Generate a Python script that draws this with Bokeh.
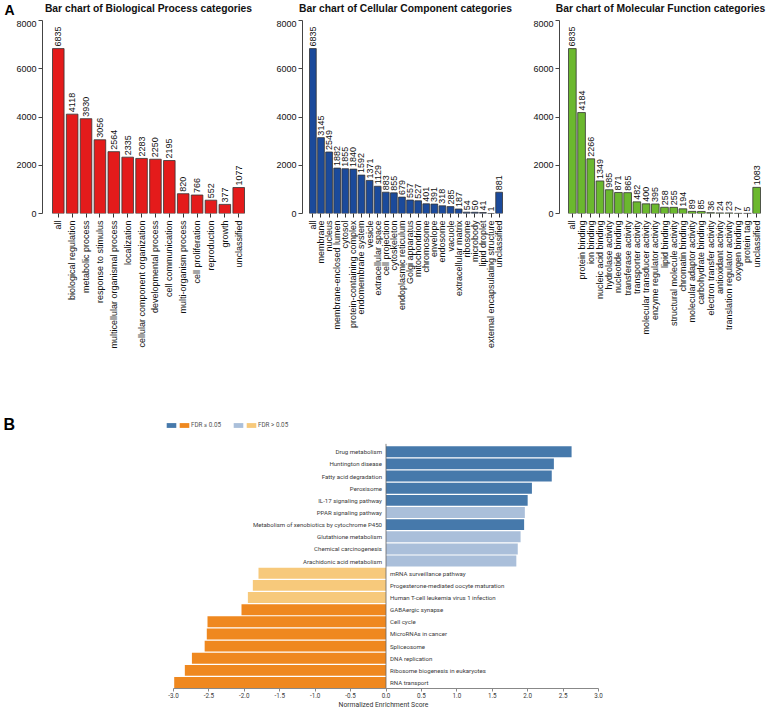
import numpy as np
from math import pi
from bokeh.plotting import figure
from bokeh.models import (ColumnDataSource, Range1d, FixedTicker, Label, Legend,
                          LegendItem, NumeralTickFormatter)
from bokeh.layouts import column, row
from bokeh.core.properties import value
from bokeh.embed import file_html
from bokeh.resources import INLINE

# ---------------- data ----------------
bp_cats = ["all", "biological regulation", "metabolic process", "response to stimulus",
           "multicellular organismal process", "localization", "cellular component organization",
           "developmental process", "cell communication", "multi-organism process",
           "cell proliferation", "reproduction", "growth", "unclassified"]
bp_vals = [6835, 4118, 3930, 3056, 2564, 2335, 2283, 2250, 2195, 820, 766, 552, 377, 1077]

cc_cats = ["all", "membrane", "nucleus", "membrane-enclosed lumen", "cytosol",
           "protein-containing complex", "endomembrane system", "vesicle", "extracellular space",
           "cell projection", "cytoskeleton", "endoplasmic reticulum", "Golgi apparatus",
           "mitochondrion", "chromosome", "envelope", "endosome", "vacuole",
           "extracellular matrix", "ribosome", "microbody", "lipid droplet",
           "external encapsulating structure", "unclassified"]
cc_vals = [6835, 3145, 2549, 1882, 1855, 1840, 1592, 1371, 1129, 883, 855, 679, 557, 527,
           401, 391, 318, 285, 187, 54, 50, 41, 1, 881]

mf_cats = ["all", "protein binding", "ion binding", "nucleic acid binding", "hydrolase activity",
           "nucleotide binding", "transferase activity", "transporter activity",
           "molecular transducer activity", "enzyme regulator activity", "lipid binding",
           "structural molecule activity", "chromatin binding", "molecular adaptor activity",
           "carbohydrate binding", "electron transfer activity", "antioxidant activity",
           "translation regulator activity", "oxygen binding", "protein tag", "unclassified"]
mf_vals = [6835, 4184, 2266, 1349, 985, 871, 865, 482, 400, 395, 258, 255, 194, 89, 85,
           36, 24, 23, 7, 5, 1083]

y_ticks_a = [0, 2000, 4000, 6000, 8000]

kegg_terms = ["Drug metabolism", "Huntington disease", "Fatty acid degradation", "Peroxisome",
              "IL-17 signaling pathway", "PPAR signaling pathway",
              "Metabolism of xenobiotics by cytochrome P450", "Glutathione metabolism",
              "Chemical carcinogenesis", "Arachidonic acid metabolism",
              "mRNA surveillance pathway", "Progesterone-mediated oocyte maturation",
              "Human T-cell leukemia virus 1 infection", "GABAergic synapse", "Cell cycle",
              "MicroRNAs in cancer", "Spliceosome", "DNA replication",
              "Ribosome biogenesis in eukaryotes", "RNA transport"]
kegg_nes = [2.62, 2.37, 2.34, 2.06, 2.00, 1.96, 1.95, 1.90, 1.86, 1.84,
            -1.80, -1.88, -1.95, -2.04, -2.52, -2.53, -2.56, -2.74, -2.84, -2.99]
kegg_sig = [True, True, True, True, True, False, True, False, False, False,
            False, False, False, True, True, True, True, True, True, True]
x_ticks_b = [-3.0, -2.5, -2.0, -1.5, -1.0, -0.5, 0.0, 0.5, 1.0, 1.5, 2.0, 2.5, 3.0]

# ---------------- layout constants (page px) ----------------
FONT_A = "Liberation Sans"
FONT_B = "Roboto"
W = 766
STRIP_H = 20
HA = 345
FT = STRIP_H   # bar-chart frame top
FB = 213       # bar-chart frame bottom


def bare(width, height, xr, yr):
    p = figure(width=width, height=height, x_range=xr, y_range=yr,
               min_border_left=0, min_border_right=0, min_border_top=0, min_border_bottom=0,
               x_axis_location=None, y_axis_location=None,
               output_backend="svg", toolbar_location=None)
    p.outline_line_color = None
    p.xgrid.visible = False
    p.ygrid.visible = False
    return p


def panel_a(cats, vals, color, fig_left, fig_w, axis_x, frame_right, first_left, last_right):
    n = len(cats)
    s = (last_right - first_left) / (n - 1 / 6)
    first_center = first_left + s * 5 / 12
    x0 = -(first_center - axis_x) / s
    x1 = x0 + (frame_right - axis_x) / s
    p = figure(width=fig_w, height=HA, x_range=Range1d(x0, x1), y_range=Range1d(0, 8000),
               min_border_left=axis_x - fig_left, min_border_right=fig_left + fig_w - frame_right,
               min_border_top=0, min_border_bottom=FT + HA - FB,
               output_backend="svg", toolbar_location=None)
    p.outline_line_color = None
    p.xgrid.visible = False
    p.ygrid.visible = False
    src = ColumnDataSource(dict(x=list(range(n)), top=vals, lab=[str(v) for v in vals]))
    p.vbar(x="x", top="top", bottom=0, width=1 / 1.2, source=src,
           fill_color=color, line_color="#333333", line_width=0.8)
    p.text(x="x", y="top", text="lab", source=src, angle=pi / 2, text_align="left",
           text_baseline="middle", y_offset=-2, text_font=value(FONT_A),
           text_font_size="9px", text_color="#111111")
    xa = p.xaxis[0]
    xa.ticker = FixedTicker(ticks=list(range(n)))
    xa.major_label_overrides = {i: c for i, c in enumerate(cats)}
    xa.major_label_orientation = pi / 2
    xa.axis_line_color = None
    xa.major_tick_line_color = "#333333"
    xa.major_tick_out = 4
    xa.major_tick_in = 0
    xa.minor_tick_line_color = None
    xa.major_label_standoff = 3
    xa.major_label_text_font = FONT_A
    xa.major_label_text_font_size = "9px"
    xa.major_label_text_color = "#111111"
    ya = p.yaxis[0]
    ya.ticker = FixedTicker(ticks=y_ticks_a)
    ya.axis_line_color = "#444444"
    ya.major_tick_line_color = "#444444"
    ya.major_tick_out = 4
    ya.major_tick_in = 0
    ya.minor_tick_line_color = None
    ya.major_label_standoff = 2
    ya.major_label_text_font = FONT_A
    ya.major_label_text_font_size = "9px"
    ya.major_label_text_color = "#111111"
    return p


# title strip (page pixels as data units)
strip = bare(W, STRIP_H, Range1d(0, W), Range1d(STRIP_H, 0))
titles = [("Bar chart of Biological Process categories", 148),
          ("Bar chart of Cellular Component categories", 405),
          ("Bar chart of Molecular Function categories", 660)]
for t, cx in titles:
    strip.add_layout(Label(x=cx, y=8, text=t, text_align="center", text_baseline="middle",
                           text_font=FONT_A, text_font_style="bold", text_font_size="10.3px",
                           text_color="#111111"))
strip.add_layout(Label(x=4, y=9, text="A", text_align="left", text_baseline="middle",
                       text_font=FONT_A, text_font_style="bold", text_font_size="14px",
                       text_color="#000000"))

p1 = panel_a(bp_cats, bp_vals, "#E41B1B", 0, 258, 42, 252, 52, 244)
p2 = panel_a(cc_cats, cc_vals, "#1B4A9B", 258, 257, 302, 512, 309, 502)
p3 = panel_a(mf_cats, mf_vals, "#6BB82E", 515, 251, 559, 766, 568, 760)

# ---------------- panel B ----------------
B_TOP = STRIP_H + HA     # 365
HB = 346
BB = 20
BFB = B_TOP + HB - BB    # frame bottom (page y)
ROW = 12.26
RNA_Y = 685              # page y of lowest row centre
X_L, X_R = 173, 598      # page x of -3 and +3
upx = (X_R - X_L) / (x_ticks_b[-1] - x_ticks_b[0])
xr0 = x_ticks_b[0] - X_L / upx
xr1 = x_ticks_b[-1] + (W - X_R) / upx

n = len(kegg_terms)
ypos = list(range(n - 1, -1, -1))
yr0 = -(BFB - RNA_Y) / ROW
yr1 = (BFB - B_TOP) / ROW + yr0

pb = figure(width=W, height=HB, x_range=Range1d(xr0, xr1), y_range=Range1d(yr0, yr1),
            min_border_left=0, min_border_right=0, min_border_top=0,
            min_border_bottom=BB, y_axis_location=None,
            output_backend="svg", toolbar_location=None)
pb.outline_line_color = None
pb.xgrid.visible = False
pb.ygrid.visible = False

groups = [("pos_sig", "#4679AB"), ("neg_sig", "#EF881F"), ("pos_ns", "#AABFDA"), ("neg_ns", "#F7C97B")]
rends = {}
for key, col in groups:
    pos = key.startswith("pos")
    sig = key.endswith("_sig")
    idx = [i for i in range(n) if (kegg_nes[i] > 0) == pos and kegg_sig[i] == sig]
    src = ColumnDataSource(dict(y=[ypos[i] for i in idx], nes=[kegg_nes[i] for i in idx]))
    rends[key] = pb.hbar(y="y", left=0, right="nes", height=0.9, source=src,
                         fill_color=col, line_color=None)

pos_idx = [i for i in range(n) if kegg_nes[i] > 0]
neg_idx = [i for i in range(n) if kegg_nes[i] < 0]
for idx, align, off in [(pos_idx, "right", -4), (neg_idx, "left", 4)]:
    src = ColumnDataSource(dict(x=[0.0] * len(idx), y=[ypos[i] for i in idx],
                                t=[kegg_terms[i] for i in idx]))
    pb.text(x="x", y="y", text="t", source=src, text_align=align, text_baseline="middle",
            x_offset=off, text_font=value(FONT_B), text_font_size="6.1px", text_color="#3a3a3a")

# zero reference line spanning the rows
pb.segment(x0=[0.0], x1=[0.0], y0=[yr0], y1=[max(ypos) + 0.65],
           line_color="#666666", line_width=0.8)

xa = pb.xaxis[0]
xa.ticker = FixedTicker(ticks=x_ticks_b)
xa.bounds = (x_ticks_b[0], x_ticks_b[-1])
xa.formatter = NumeralTickFormatter(format="0.0")
xa.axis_label = "Normalized Enrichment Score"
xa.axis_label_text_font = FONT_B
xa.axis_label_text_font_size = "6.8px"
xa.axis_label_text_font_style = "normal"
xa.axis_label_text_color = "#333333"
xa.axis_label_standoff = 0
xa.axis_line_color = "#888888"
xa.major_tick_line_color = "#888888"
xa.major_tick_out = 3
xa.major_tick_in = 0
xa.minor_tick_line_color = None
xa.major_label_standoff = 1
xa.major_label_text_font = FONT_B
xa.major_label_text_font_size = "6.3px"
xa.major_label_text_color = "#3a3a3a"

leg_bottom = BFB - 432
for vx, items in [(165, [LegendItem(label=" ", renderers=[rends["pos_sig"]]),
                         LegendItem(label="FDR \u2264 0.05", renderers=[rends["neg_sig"]])]),
                  (232, [LegendItem(label=" ", renderers=[rends["pos_ns"]]),
                         LegendItem(label="FDR > 0.05", renderers=[rends["neg_ns"]])])]:
    lg = Legend(items=items, location=(vx, leg_bottom), orientation="horizontal",
                padding=0, margin=0, spacing=0, label_standoff=1, glyph_width=12,
                glyph_height=6, label_height=6, label_width=0,
                label_text_font=FONT_B, label_text_font_size="6.3px", label_text_color="#555555",
                background_fill_alpha=0, border_line_color=None)
    pb.add_layout(lg)

pb.add_layout(Label(x=3, y=BFB - 427, x_units="screen", y_units="screen", text="B",
                    text_align="left", text_baseline="alphabetic", text_font=FONT_A,
                    text_font_style="bold", text_font_size="16px", text_color="#000000"))

layout = column(strip, row(p1, p2, p3), pb)
open("out.html", "w").write(file_html(layout, INLINE))
